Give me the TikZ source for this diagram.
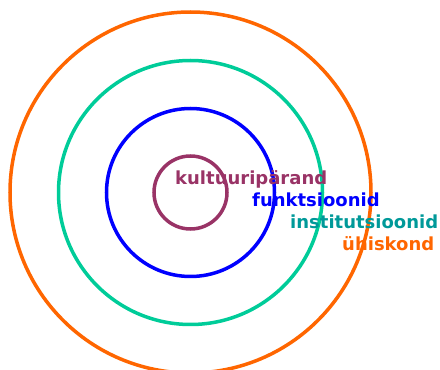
\documentclass[tikz,border=0pt]{standalone}
\usepackage{fontspec}
\setmainfont{DejaVu Sans}
\definecolor{cpurple}{HTML}{993366}
\definecolor{cblue}{HTML}{0000FF}
\definecolor{cteal}{HTML}{00CC99}
\definecolor{ctealtext}{HTML}{009999}
\definecolor{corange}{HTML}{FF6600}
\tikzset{ring/.style={draw, line width=3.5pt, circle, inner sep=0pt},
  lab/.style={anchor=base west, inner sep=0pt, font=\fontsize{18}{20}\selectfont\bfseries}}
\begin{document}
\begin{tikzpicture}[x=1pt,y=1pt]
\useasboundingbox (0,0) rectangle (440,370);
\coordinate (c) at (190.5,177.5);
\node[ring, corange, minimum size=361pt] (r4) at (c) {};
\node[ring, cteal, minimum size=264pt] (r3) at (c) {};
\node[ring, cblue, minimum size=168pt] (r2) at (c) {};
\node[ring, cpurple, minimum size=73pt] (r1) at (c) {};
\node[lab, text=cpurple] (t1) at (175,185) {kultuuripärand};
\node[lab, text=cblue] (t2) at (252,163) {funktsioonid};
\node[lab, text=ctealtext] (t3) at (290,141.5) {institutsioonid};
\node[lab, text=corange] (t4) at (342,119.5) {ühiskond};
\end{tikzpicture}
\end{document}
